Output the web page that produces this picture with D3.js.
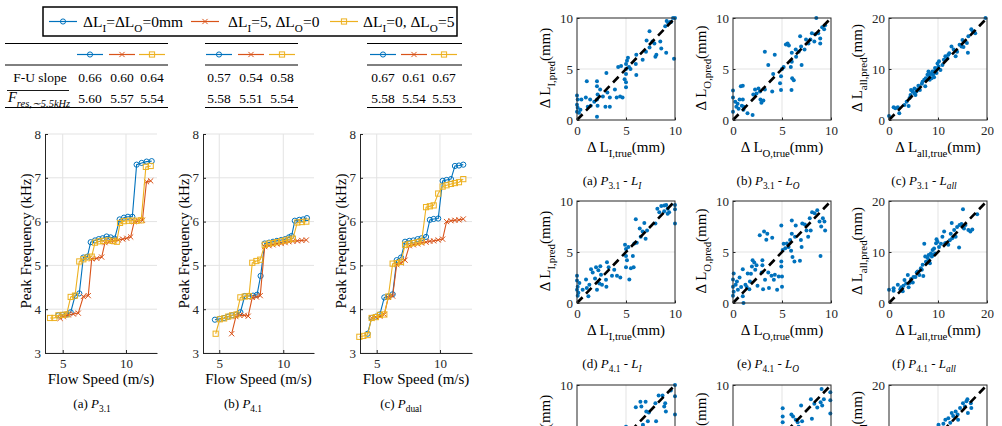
<!DOCTYPE html>
<html>
<head>
<meta charset="utf-8">
<script src="https://d3js.org/d3.v7.min.js"></script>
<style>
body{margin:0;background:#fff;}
svg{display:block;font-family:"Liberation Serif","Times New Roman",serif;}
</style>
</head>
<body>
<svg id="fig" width="1002" height="426"></svg>
<script>
// ---- data ----
const fuSlope = [[0.66,0.60,0.64],[0.57,0.54,0.58],[0.67,0.61,0.67]];
const fRes    = [[5.60,5.57,5.54],[5.58,5.51,5.54],[5.58,5.54,5.53]];

// peak frequency (kHz) vs flow speed (m/s): [speed, freq]
const p31Base = [[4.65,3.86],[5.0,3.87],[5.31,3.88],[5.63,3.93],[5.97,4.3],[6.31,4.36],[6.63,5.18],[6.95,5.2],[7.21,5.53],[7.55,5.57],[7.85,5.6],[8.16,5.62],[8.47,5.66],[8.79,5.64],[9.1,5.61],[9.5,6.05],[9.84,6.09],[10.15,6.11],[10.5,6.11],[10.84,7.3],[11.24,7.34],[11.63,7.37],[12.03,7.38]];
const p31Li   = [[4.8,3.79],[5.05,3.83],[5.44,3.87],[5.84,3.89],[6.23,3.91],[6.63,4.29],[7.02,4.31],[7.29,5.15],[7.69,5.16],[8.08,5.19],[8.34,5.52],[8.68,5.54],[9.05,5.56],[9.39,5.58],[9.74,5.6],[10.06,5.62],[10.37,5.65],[10.65,6.0],[10.98,6.02],[11.3,6.03],[11.62,6.91],[11.95,6.93]];
const p31Lo   = [[4.0,3.8],[4.34,3.8],[4.66,3.86],[5.0,3.87],[5.31,3.88],[5.63,4.28],[5.97,4.31],[6.31,5.09],[6.63,5.14],[6.95,5.18],[7.29,5.2],[7.55,5.52],[7.9,5.55],[8.2,5.56],[8.6,5.57],[8.95,5.56],[9.27,5.54],[9.53,5.97],[9.84,6.01],[10.2,6.02],[10.5,6.02],[10.84,6.02],[11.2,6.03],[11.57,7.25],[11.95,7.27]];

const p41Base = [[4.66,3.76],[5.04,3.78],[5.38,3.8],[5.7,3.83],[6.0,3.86],[6.35,3.88],[6.65,3.93],[6.99,4.3],[7.32,4.3],[7.64,4.31],[7.95,4.33],[8.23,4.76],[8.55,5.5],[8.89,5.52],[9.2,5.54],[9.5,5.56],[9.84,5.58],[10.15,5.6],[10.44,5.64],[10.65,5.67],[10.9,6.02],[11.25,6.04],[11.55,6.05],[11.85,6.08]];
const p41Li   = [[5.97,3.44],[6.3,3.83],[6.6,3.86],[6.95,3.86],[7.26,3.84],[7.58,4.27],[7.9,4.28],[8.2,4.31],[8.55,5.43],[8.89,5.45],[9.2,5.47],[9.5,5.49],[9.84,5.5],[10.15,5.52],[10.44,5.54],[10.75,5.55],[11.1,5.56],[11.45,5.57],[11.8,5.58]];
const p41Lo   = [[4.72,3.44],[5.04,3.77],[5.38,3.79],[5.7,3.83],[6.0,3.86],[6.35,3.88],[6.65,4.27],[6.99,4.29],[7.32,4.3],[7.58,5.06],[7.9,5.1],[8.2,5.13],[8.55,5.47],[8.89,5.5],[9.2,5.51],[9.5,5.53],[9.84,5.55],[10.15,5.57],[10.44,5.59],[10.75,5.61],[11.1,5.98],[11.45,5.99],[11.8,6.0]];

const pduBase = [[4.28,3.44],[4.6,3.8],[4.93,3.83],[5.25,3.88],[5.6,4.27],[5.92,4.29],[6.26,4.34],[6.58,5.12],[6.92,5.18],[7.24,5.54],[7.58,5.56],[7.9,5.57],[8.24,5.6],[8.55,5.62],[8.9,5.65],[9.2,6.04],[9.5,6.06],[9.86,6.07],[10.21,6.93],[10.52,6.95],[10.87,6.97],[11.18,7.27],[11.5,7.28],[11.84,7.3]];
const pduLi   = [[4.6,3.8],[4.93,3.82],[5.25,3.84],[5.6,3.88],[5.92,4.27],[6.26,4.3],[6.58,5.02],[6.92,5.06],[7.24,5.12],[7.58,5.45],[7.9,5.47],[8.24,5.49],[8.55,5.51],[8.9,5.53],[9.2,5.55],[9.5,5.56],[9.86,5.58],[10.21,5.6],[10.52,6.0],[10.87,6.02],[11.18,6.03],[11.5,6.04],[11.84,6.06]];
const pduLo   = [[3.63,3.37],[3.94,3.39],[4.28,3.41],[4.6,3.8],[4.93,3.82],[5.25,3.87],[5.6,3.88],[5.92,4.29],[6.26,5.04],[6.58,5.05],[6.92,5.08],[7.24,5.47],[7.58,5.49],[7.9,5.51],[8.24,5.53],[8.55,5.55],[8.9,6.33],[9.2,6.35],[9.5,6.37],[9.86,6.64],[10.21,6.8],[10.52,6.83],[10.87,6.86],[11.18,6.88],[11.5,6.9],[11.84,6.97]];

const speedTicks = [5,10];
const freqTicks = [3,4,5,6,7,8];

// predicted vs true length change (mm): [true, pred]
const sc31LI = [[0,2.4],[0.07,2.0],[0,1.5],[0.07,1.2],[0,0.8],[0.2,0.7],[0.35,1.0],[0.45,2.0],[1.0,3.8],[0.9,2.2],[1.1,1.3],[1.4,1.4],[1.34,2.0],[1.76,1.8],[2.04,3.8],[2.04,3.3],[2.1,2.5],[2.04,2.0],[2.1,1.4],[2.04,0.33],[2.36,3.0],[2.64,2.3],[2.9,1.3],[3.0,4.6],[3.1,2.7],[3.35,2.2],[3.35,1.3],[3.87,3.0],[4.05,2.2],[4.2,5.2],[4.5,5.3],[4.4,2.3],[4.65,2.2],[4.86,4.0],[5.0,4.5],[5.0,3.7],[5.0,3.2],[5.0,5.5],[5.1,5.8],[5.2,6.1],[5.0,5.0],[5.3,5.2],[5.46,5.0],[6.0,5.5],[6.05,6.4],[6.05,4.4],[6.7,5.9],[7.04,6.7],[7.1,7.8],[7.4,8.7],[7.4,7.1],[7.7,7.7],[7.9,7.5],[8.0,6.2],[8.1,6.4],[8.5,7.7],[8.6,7.0],[9.1,6.6],[9.15,9.7],[9.3,9.5],[9.0,9.2],[9.5,9.6],[9.8,10.0],[9.6,9.6],[9.9,6.0],[10.0,10.0]];
const sc31LO = [[0,2.9],[0,2.2],[0,0.8],[0.23,1.8],[0.34,1.3],[0.47,1.6],[0.57,1.1],[0.67,2.0],[0.9,1.4],[0.8,3.3],[1.0,3.35],[1.07,1.0],[1.0,2.0],[1.1,1.3],[1.48,0.66],[2.0,0.5],[2.07,2.5],[2.25,3.0],[2.4,2.6],[2.6,3.1],[2.75,2.8],[2.8,2.0],[2.9,1.7],[3.1,1.9],[3.25,3.0],[3.25,6.7],[3.6,5.4],[4.0,2.8],[4.1,4.5],[4.26,6.4],[4.8,3.6],[4.9,2.95],[4.9,4.3],[5.0,5.0],[5.17,5.2],[5.4,7.4],[5.57,7.5],[5.7,7.3],[5.9,5.2],[6.0,5.7],[5.97,2.95],[6.04,4.1],[6.2,3.9],[6.0,6.6],[6.4,6.9],[6.44,6.2],[6.7,6.7],[6.85,8.2],[6.95,7.2],[7.0,5.4],[7.3,6.9],[7.45,7.9],[7.7,7.5],[7.9,7.9],[8.05,8.5],[8.3,7.7],[8.4,8.4],[8.5,10.0],[8.7,8.5],[8.9,8.0],[9.1,9.1],[9.3,8.9],[9.4,9.3],[8.9,7.5]];
const sc31All = [[0,0.8],[0.94,2.5],[1.3,2.3],[1.8,2.5],[2.1,1.3],[3.15,2.95],[3.6,3.6],[4.0,2.75],[4.2,4.3],[4.4,4.9],[4.5,5.9],[4.8,5.6],[5.2,5.2],[5.4,4.9],[5.2,6.2],[5.6,5.6],[5.8,6.0],[6.0,6.7],[6.3,5.9],[6.7,7.1],[6.85,7.5],[7.2,7.9],[7.4,6.6],[7.5,8.2],[7.85,8.85],[8.05,9.5],[8.2,8.5],[8.3,7.9],[8.5,9.0],[8.7,8.2],[8.86,9.5],[9.0,8.85],[9.2,8.4],[9.4,10.2],[9.5,9.8],[9.7,9.2],[9.9,11.1],[10.1,10.5],[10.2,11.5],[10.5,9.8],[10.9,10.8],[11.2,11.8],[11.5,12.5],[11.9,12.1],[12.1,12.8],[12.3,13.1],[12.75,14.4],[13.2,13.8],[13.6,12.5],[13.9,13.4],[14.4,14.75],[14.8,14.4],[15.0,15.7],[15.2,14.3],[15.9,15.1],[16.1,13.2],[16.2,16.4],[16.8,17.8],[17.1,17.4],[17.6,17.0],[19.7,20.0]];

const sc41LI = [[0,2.66],[0,2.2],[0.07,1.6],[0,1.3],[0.14,1.0],[0.07,0.7],[0.24,1.95],[0.58,1.3],[0.92,2.3],[1.0,1.46],[1.16,0.65],[1.26,1.8],[1.43,3.3],[1.6,3.0],[1.84,2.4],[1.94,3.5],[2.04,1.3],[2.18,3.2],[2.28,1.9],[2.38,3.6],[2.45,2.76],[2.55,1.8],[2.96,2.27],[3.0,1.6],[3.06,4.0],[3.23,3.5],[3.57,2.66],[3.8,3.25],[4.08,2.66],[4.42,2.5],[4.9,5.7],[5.0,5.3],[5.0,4.6],[5.0,3.5],[5.1,4.2],[5.24,5.5],[5.34,2.3],[5.5,3.4],[5.7,4.6],[5.78,3.5],[5.85,5.84],[6.0,8.2],[6.1,5.9],[6.4,7.3],[6.5,6.5],[6.7,7.0],[6.87,7.85],[7.0,6.3],[7.15,7.1],[8.0,7.8],[8.2,9.25],[8.4,8.9],[8.6,9.5],[8.9,9.0],[9.1,9.6],[9.25,9.25],[9.4,8.9],[8.9,9.57],[9.25,8.76],[10.0,9.6],[10.0,9.2],[10.0,7.8]];
const sc41LO = [[0,1.6],[0,2.3],[0.07,2.9],[0.07,1.1],[0,0.7],[0.27,1.8],[0.4,2.1],[0.5,1.3],[0.67,2.5],[0.83,1.56],[1.0,0.65],[1.07,0],[1.0,3.3],[1.27,1.8],[1.4,1.56],[1.5,2.9],[1.67,1.36],[1.73,2.1],[1.83,2.86],[1.93,3.57],[2.0,4.2],[2.17,3.96],[2.27,3.25],[2.4,3.7],[2.5,1.7],[2.73,6.65],[2.93,3.0],[3.0,4.2],[3.0,3.7],[3.07,1.36],[3.17,7.0],[3.4,6.2],[3.5,6.8],[3.27,2.27],[3.6,3.0],[3.67,1.46],[3.93,2.66],[4.0,6.4],[4.17,2.27],[4.27,2.76],[4.5,1.3],[4.67,2.6],[4.93,7.6],[4.93,3.57],[4.93,4.06],[5.0,2.6],[5.0,1.6],[5.07,5.2],[5.17,5.8],[5.33,5.36],[5.5,5.84],[5.67,5.5],[5.83,6.17],[5.93,5.13],[6.0,8.1],[6.0,6.8],[6.07,4.5],[6.27,4.06],[6.33,6.5],[6.4,7.6],[6.83,4.15],[6.93,6.17],[7.0,5.5],[7.07,7.8],[7.33,7.7],[7.5,7.1],[7.67,6.5],[7.83,8.3],[7.93,7.1],[8.07,8.9],[8.33,8.8],[8.6,9.1],[8.83,8.0],[8.93,4.6],[9.0,7.5],[9.17,8.3],[9.33,8.0],[9.4,7.1]];
const sc41All = [[0,2.6],[0.94,2.4],[0.94,2.9],[1.8,3.6],[2.3,2.7],[2.5,3.1],[2.8,2.3],[2.96,3.4],[3.16,4.5],[3.5,3.8],[3.84,5.5],[4.0,3.1],[4.2,3.9],[4.5,4.7],[4.85,4.0],[5.0,5.1],[5.4,5.1],[5.65,6.0],[5.85,6.2],[6.2,5.5],[6.5,6.8],[6.7,6.5],[6.87,7.5],[7.0,5.3],[7.2,11.6],[7.4,9.1],[7.54,8.1],[7.9,8.8],[8.1,9.4],[8.2,8.4],[8.35,7.8],[8.55,9.7],[8.75,9.1],[8.9,10.4],[9.0,9.4],[9.2,10.7],[9.4,9.7],[9.6,11.7],[9.7,12.5],[9.9,12.0],[10.2,11.0],[10.6,11.6],[10.9,13.0],[11.25,14.0],[11.45,11.7],[11.7,11.8],[12.1,11.4],[12.4,12.3],[12.6,13.6],[12.8,15.7],[12.9,12.7],[13.3,14.3],[13.6,13.0],[13.9,14.9],[14.3,10.9],[14.4,15.3],[14.8,15.5],[15.1,18.4],[15.3,14.6],[15.6,15.3],[16.2,14.3],[16.6,14.0],[17.0,14.4],[18.0,17.4]];

const scDuLI = [[5.0,5.9],[6.0,7.83],[6.47,8.37],[7.0,8.37],[6.57,7.9],[7.07,7.4],[7.23,6.45],[6.73,6.1],[8.0,8.2],[8.33,8.96],[8.73,8.96],[9.0,8.2],[8.9,7.9],[9.57,9.45],[10.0,10.0],[10.0,8.9],[10.0,7.1],[8.07,6.45],[9.07,7.4],[7.33,7.3],[4.3,4.5],[3.0,3.5],[2.0,2.5],[1.0,1.5],[0,2.0],[5.5,5.0]];
const scDuLO = [[5.07,7.73],[5.07,6.9],[5.07,6.35],[5.96,7.1],[6.13,6.9],[6.4,6.6],[6.6,6.35],[6.95,8.0],[7.05,6.45],[7.95,8.6],[8.3,8.15],[8.6,7.8],[8.94,8.3],[9.04,9.6],[9.1,8.0],[9.27,8.6],[9.93,8.5],[9.93,9.3],[9.93,7.2],[8.05,6.7],[6.7,5.9],[4.0,3.5],[3.0,2.5],[2.0,3.0],[1.0,1.5],[0,1.0],[5.5,5.0]];
const scDuAll = [[10.1,12.2],[11.1,12.4],[11.5,13.2],[12.1,13.5],[12.8,14.5],[13.1,13.9],[13.6,14.8],[14.0,14.2],[14.5,15.5],[15.1,16.4],[15.5,15.8],[15.8,16.8],[16.0,17.2],[16.7,16.4],[16.8,15.5],[16.1,14.5],[14.1,13.2],[12.5,12.6],[8.0,8.5],[6.0,6.2],[4.0,4.5],[2.0,2.5]];

const colors = ["#0072BD","#D95319","#EDB120"];
const ink = "#262626";
const serif = '"Liberation Serif", "Times New Roman", serif';
const fig = d3.select("#fig").attr("font-family", serif);

// text with subscripts / italics
function rich(parent, x, y, parts, size, anchor) {
  const t = parent.append("text").attr("x", x).attr("y", y).attr("font-family", serif)
    .attr("font-size", size).attr("text-anchor", anchor || "start").attr("fill", "#000");
  let shift = 0;
  parts.forEach(p => {
    const s = typeof p === "string" ? {t: p} : p;
    const ts = t.append("tspan").text(s.t);
    const want = s.sub ? size * 0.32 : 0;
    if (want !== shift) { ts.attr("dy", want - shift); shift = want; }
    if (s.sub) ts.attr("font-size", size * 0.72);
    if (s.it) ts.attr("font-style", "italic");
  });
  return t;
}

function plain(parent, x, y, str, size, anchor) {
  return parent.append("text").attr("x", x).attr("y", y).attr("font-family", serif)
    .attr("font-size", size).attr("text-anchor", anchor || "start").attr("fill", "#000").text(str);
}

function marker(sel, kind, color, s) {
  if (kind === 0) sel.append("circle").attr("r", s).attr("fill", "none").attr("stroke", color);
  if (kind === 1) sel.append("path").attr("d", `M${-s},${-s}L${s},${s}M${-s},${s}L${s},${-s}`).attr("stroke", color);
  if (kind === 2) sel.append("rect").attr("x", -s).attr("y", -s).attr("width", 2*s).attr("height", 2*s).attr("fill", "none").attr("stroke", color);
}

function sample(g, cx, cy, i, half) {
  g.append("line").attr("x1", cx - half).attr("x2", cx + half).attr("y1", cy).attr("y2", cy)
    .attr("stroke", colors[i]).attr("stroke-width", 1.2);
  marker(g.append("g").attr("transform", `translate(${cx},${cy})`), i, colors[i], 2.6);
}

function styleAxis(a) {
  a.attr("font-family", serif).attr("font-size", 13).attr("color", ink);
}

// ---- legend ----
const leg = fig.append("g");
leg.append("rect").attr("x", 43).attr("y", 7).attr("width", 414).attr("height", 29)
  .attr("fill", "#fff").attr("stroke", "#000").attr("stroke-width", 1.5);
const legItems = [
  {cx: 63, tx: 83, parts: ["ΔL", {t:"I", sub:true}, "=ΔL", {t:"O", sub:true}, "=0mm"]},
  {cx: 205, tx: 228, parts: ["ΔL", {t:"I", sub:true}, "=5, ΔL", {t:"O", sub:true}, "=0"]},
  {cx: 344, tx: 363, parts: ["ΔL", {t:"I", sub:true}, "=0, ΔL", {t:"O", sub:true}, "=5"]}
];
legItems.forEach((d, i) => {
  sample(leg, d.cx, 21.5, i, 14);
  rich(leg, d.tx, 27, d.parts, 15.5);
});

// ---- tables ----
const tables = [
  {x0: 5, x1: 168, cols: [90, 122, 152]},
  {x0: 205, x1: 298, cols: [219, 251, 282]},
  {x0: 367, x1: 462, cols: [383, 414, 444]}
];
const tg = fig.append("g");
tables.forEach((tb, k) => {
  [43.5, 65, 107.5].forEach(yy => tg.append("line").attr("x1", tb.x0).attr("x2", tb.x1)
    .attr("y1", yy).attr("y2", yy).attr("stroke", "#000").attr("stroke-width", 1));
  tb.cols.forEach((cx, i) => {
    sample(tg, cx, 54.5, i, 13);
    plain(tg, cx, 82, fuSlope[k][i].toFixed(2), 13.5, "middle");
    plain(tg, cx, 102.5, fRes[k][i].toFixed(2), 13.5, "middle");
  });
});
plain(tg, 40, 82, "F-U slope", 13.5, "middle");
rich(tg, 8, 102, [{t:"F", it:true}, {t:"res,∼5.5kHz", sub:true, it:true}], 14.5);
tg.append("line").attr("x1", 7).attr("x2", 69).attr("y1", 90.5).attr("y2", 90.5).attr("stroke", "#000").attr("stroke-width", 0.9);

// ---- step charts ----
function stepChart(cfg) {
  const x = d3.scaleLinear().domain(cfg.xDom).range([cfg.x0, cfg.x1]);
  const y = d3.scaleLinear().domain([3, 8]).range([353, 134]);
  const g = fig.append("g");
  g.append("g").selectAll("line").data(speedTicks).join("line")
    .attr("x1", d => x(d)).attr("x2", d => x(d)).attr("y1", y(3)).attr("y2", y(8))
    .attr("stroke", "#e3e3e3");
  g.append("g").selectAll("line").data(freqTicks).join("line")
    .attr("x1", cfg.x0).attr("x2", cfg.x1).attr("y1", d => y(d)).attr("y2", d => y(d))
    .attr("stroke", "#e3e3e3");
  cfg.series.forEach((s, i) => {
    g.append("path").datum(s)
      .attr("d", d3.line().x(d => x(d[0])).y(d => y(d[1])))
      .attr("fill", "none").attr("stroke", colors[i]).attr("stroke-width", 1.1);
    g.append("g").selectAll("g").data(s).join("g")
      .attr("transform", d => `translate(${x(d[0])},${y(d[1])})`)
      .each(function () { marker(d3.select(this), i, colors[i], 2.6); });
  });
  const ax = g.append("g").attr("transform", "translate(0,353)")
    .call(d3.axisBottom(x).tickValues(speedTicks).tickFormat(d3.format("d"))
      .tickSizeInner(-3).tickSizeOuter(0).tickPadding(6));
  const ay = g.append("g").attr("transform", `translate(${cfg.x0},0)`)
    .call(d3.axisLeft(y).tickValues(freqTicks).tickFormat(d3.format("d"))
      .tickSizeInner(-3).tickSizeOuter(0).tickPadding(4));
  styleAxis(ax); styleAxis(ay);
  rich(g, 0, 0, ["Peak Frequency (kHz)"], 15, "middle")
    .attr("transform", `translate(${cfg.x0 - 19},241) rotate(-90)`).attr("dy", "0.35em");
  plain(g, (cfg.x0 + cfg.x1) / 2, 384, "Flow Speed (m/s)", 15, "middle");
  rich(g, cfg.capX, 408, cfg.cap, 13, "middle");
}

stepChart({x0: 45, x1: 157, xDom: [3.6, 12.45], series: [p31Base, p31Li, p31Lo],
  capX: 92, cap: ["(a) ", {t:"P", it:true}, {t:"3.1", sub:true}]});
stepChart({x0: 203, x1: 314, xDom: [3.73, 12.4], series: [p41Base, p41Li, p41Lo],
  capX: 243, cap: ["(b) ", {t:"P", it:true}, {t:"4.1", sub:true}]});
stepChart({x0: 360, x1: 472, xDom: [3.68, 12.53], series: [pduBase, pduLi, pduLo],
  capX: 401, cap: ["(c) ", {t:"P", it:true}, {t:"dual", sub:true}]});

// ---- scatter grid ----
function scatter(cfg) {
  const w = 98, h = 102;
  const x = d3.scaleLinear().domain([0, cfg.max]).range([cfg.x0, cfg.x0 + w]);
  const y = d3.scaleLinear().domain([0, cfg.max]).range([cfg.y0 + h, cfg.y0]);
  const ticks = cfg.max === 20 ? [0, 10, 20] : [0, 5, 10];
  const g = fig.append("g");
  const mid = ticks.slice(1, -1);
  g.append("g").selectAll("line").data(mid).join("line")
    .attr("x1", d => x(d)).attr("x2", d => x(d)).attr("y1", cfg.y0).attr("y2", cfg.y0 + h).attr("stroke", "#e3e3e3");
  g.append("g").selectAll("line").data(mid).join("line")
    .attr("y1", d => y(d)).attr("y2", d => y(d)).attr("x1", cfg.x0).attr("x2", cfg.x0 + w).attr("stroke", "#e3e3e3");
  g.append("g").selectAll("circle").data(cfg.pts).join("circle")
    .attr("cx", d => x(d[0])).attr("cy", d => y(d[1])).attr("r", 2).attr("fill", colors[0]);
  g.append("line").attr("x1", x(0)).attr("y1", y(0)).attr("x2", x(cfg.max)).attr("y2", y(cfg.max))
    .attr("stroke", "#000").attr("stroke-width", 2.6).attr("stroke-dasharray", "8,5");
  g.append("rect").attr("x", cfg.x0).attr("y", cfg.y0).attr("width", w).attr("height", h)
    .attr("fill", "none").attr("stroke", ink).attr("stroke-width", 1);
  const ax = g.append("g").attr("transform", `translate(0,${cfg.y0 + h})`)
    .call(d3.axisBottom(x).tickValues(ticks).tickFormat(d3.format("d"))
      .tickSizeInner(-2.5).tickSizeOuter(0).tickPadding(6));
  const ay = g.append("g").attr("transform", `translate(${cfg.x0},0)`)
    .call(d3.axisLeft(y).tickValues(ticks).tickFormat(d3.format("d"))
      .tickSizeInner(-2.5).tickSizeOuter(0).tickPadding(4));
  styleAxis(ax); styleAxis(ay);
  ax.select(".domain").remove(); ay.select(".domain").remove();
  const sub = cfg.sub;
  rich(g, 0, 0, ["Δ L", {t: sub + ",pred", sub: true}, "(mm)"], 15, "middle")
    .attr("transform", `translate(${cfg.x0 - 32},${cfg.y0 + 50}) rotate(-90)`).attr("dy", "0.35em");
  rich(g, cfg.x0 + w / 2, cfg.y0 + h + 32, ["Δ L", {t: sub + ",true", sub: true}, "(mm)"], 15, "middle");
  if (cfg.cap) rich(g, cfg.x0 + w / 2 - 14, cfg.y0 + h + 65, cfg.cap, 13, "middle");
}

const colX = [577, 733, 889];
const rowY = [18, 201, 385];
const subs = ["I", "O", "all"];
const scRows = [
  {P: "3.1", letters: ["a", "b", "c"], data: [sc31LI, sc31LO, sc31All]},
  {P: "4.1", letters: ["d", "e", "f"], data: [sc41LI, sc41LO, sc41All]},
  {P: "dual", letters: ["g", "h", "i"], data: [scDuLI, scDuLO, scDuAll]}
];
scRows.forEach((r, ri) => {
  r.data.forEach((pts, ci) => {
    scatter({x0: colX[ci], y0: rowY[ri], max: ci === 2 ? 20 : 10, pts: pts, sub: subs[ci],
      cap: ["(" + r.letters[ci] + ") ", {t:"P", it:true}, {t:r.P, sub:true}, " - ", {t:"L", it:true}, {t:subs[ci], sub:true, it:true}]});
  });
});
</script>
</body>
</html>
